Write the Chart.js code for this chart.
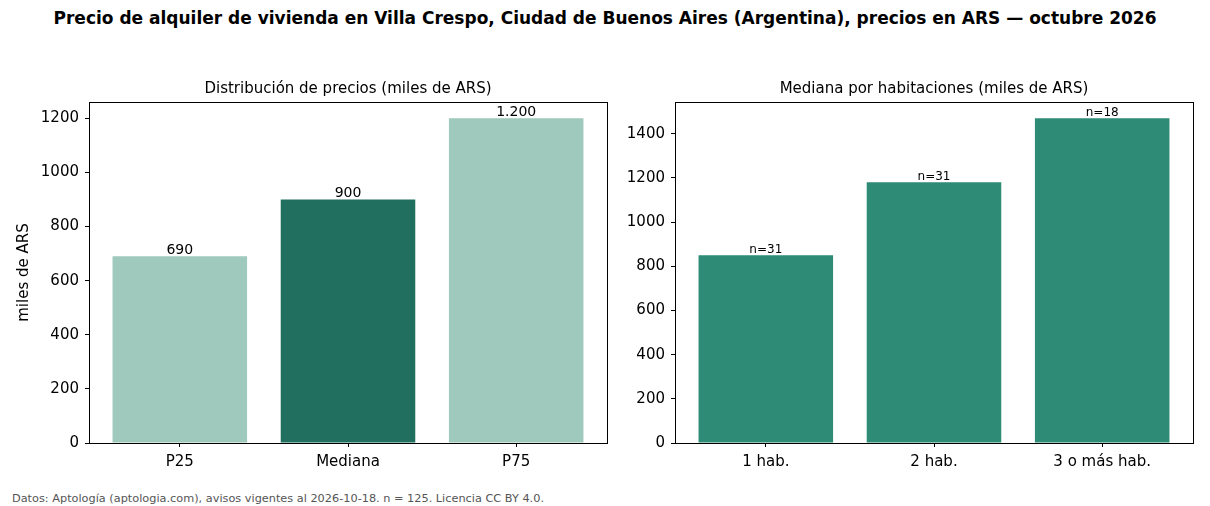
<!DOCTYPE html>
<html>
<head>
<meta charset="utf-8">
<script src="https://cdn.jsdelivr.net/npm/chart.js@4/dist/chart.umd.min.js"></script>
<style>
  body { margin: 0; background: #fff; font-family: "DejaVu Sans", sans-serif; }
  #page { position: relative; width: 1210px; height: 506px; overflow: hidden; }
  #titulo { position: absolute; left: 0; top: 8px; width: 1210px; text-align: center;
            font-weight: bold; font-size: 17px; color: #000; }
  #fuente { position: absolute; left: 12px; top: 492px; font-size: 11.3px; color: #555; }
  .box { position: absolute; top: 60px; height: 420px; }
</style>
</head>
<body>
<div id="page">
  <div id="titulo">Precio de alquiler de vivienda en Villa Crespo, Ciudad de Buenos Aires (Argentina), precios en ARS — octubre 2026</div>
  <div class="box" style="left:0;width:610px"><canvas id="distChart"></canvas></div>
  <div class="box" style="left:610px;width:600px"><canvas id="habChart"></canvas></div>
  <div id="fuente">Datos: Aptología (aptologia.com), avisos vigentes al 2026-10-18. n = 125. Licencia CC BY 4.0.</div>
</div>
<script>
const distCategorias = ['P25', 'Mediana', 'P75'];
const distValores = [690, 900, 1200];
const habCategorias = ['1 hab.', '2 hab.', '3 o más hab.'];
const habValores = [850, 1180, 1470];
const habAvisos = [31, 31, 18];

const verdeClaro = '#9ec9bc';
const verdeOscuro = '#216f5f';
const verdeMedio = '#2e8b76';
const fuente = '"DejaVu Sans", sans-serif';

// marco completo alrededor del area del grafico (como matplotlib)
const marco = {
    id: 'marco',
    afterDatasetsDraw(chart) {
        const a = chart.chartArea;
        const ctx = chart.ctx;
        ctx.save();
        ctx.strokeStyle = '#000';
        ctx.lineWidth = 1;
        ctx.strokeRect(Math.round(a.left) + 0.5, Math.round(a.top) + 0.5,
            Math.round(a.right - a.left), Math.round(a.bottom - a.top));
        ctx.restore();
    }
};

// titulo centrado sobre el area del grafico
function tituloArea(texto) {
    return {
        id: 'tituloArea',
        afterDraw(chart) {
            const a = chart.chartArea;
            const ctx = chart.ctx;
            ctx.save();
            ctx.font = '15px ' + fuente;
            ctx.fillStyle = '#000';
            ctx.textAlign = 'center';
            ctx.textBaseline = 'middle';
            ctx.fillText(texto, (a.left + a.right) / 2, a.top - 13);
            ctx.restore();
        }
    };
}

// etiquetas sobre las barras
function etiquetas(textos, tam) {
    return {
        id: 'etiquetas',
        afterDatasetsDraw(chart) {
            const ctx = chart.ctx;
            const meta = chart.getDatasetMeta(0);
            ctx.save();
            ctx.font = tam + 'px ' + fuente;
            ctx.fillStyle = '#000';
            ctx.textAlign = 'center';
            ctx.textBaseline = 'alphabetic';
            meta.data.forEach((bar, i) => {
                ctx.fillText(textos[i], bar.x, bar.y - 2);
            });
            ctx.restore();
        }
    };
}

function crearGrafico(id, categorias, valores, colores, yMax, titulo, anchoEje, padDer, tituloEje, textos, tamEtiq) {
    const ctx = document.getElementById(id).getContext('2d');
    return new Chart(ctx, {
        type: 'bar',
        data: {
            datasets: [{
                data: categorias.map((c, i) => ({ x: i, y: valores[i] })),
                backgroundColor: colores,
                borderWidth: 0,
                barPercentage: 0.8,
                categoryPercentage: 1
            }]
        },
        options: {
            responsive: true,
            maintainAspectRatio: false,
            animation: false,
            layout: { padding: { left: 0, right: padDer, top: 42, bottom: 0 } },
            plugins: {
                legend: { display: false },
                tooltip: { enabled: false },
                title: { display: false }
            },
            scales: {
                x: {
                    type: 'linear',
                    min: -0.54,
                    max: categorias.length - 1 + 0.54,
                    offset: false,
                    afterBuildTicks: s => { s.ticks = categorias.map((c, i) => ({ value: i })); },
                    afterFit: s => { s.height = 37; },
                    ticks: {
                        color: '#000',
                        font: { family: fuente, size: 15 },
                        padding: 6,
                        maxRotation: 0,
                        autoSkip: false,
                        callback: v => categorias[v]
                    },
                    grid: { display: true, offset: false, drawOnChartArea: false, drawTicks: true, tickLength: 4, color: '#000' },
                    border: { display: true, color: '#000' }
                },
                y: {
                    min: 0,
                    max: yMax,
                    afterBuildTicks: s => {
                        const t = [];
                        for (let v = 0; v <= yMax; v += 200) t.push({ value: v });
                        s.ticks = t;
                    },
                    afterFit: s => { s.width = anchoEje; },
                    ticks: {
                        stepSize: 200,
                        color: '#000',
                        font: { family: fuente, size: 15 },
                        padding: 6,
                        callback: v => String(v)
                    },
                    title: {
                        display: !!tituloEje,
                        text: tituloEje,
                        color: '#000',
                        font: { family: fuente, size: 15 },
                        padding: { top: 15, bottom: 0 }
                    },
                    grid: { display: true, drawOnChartArea: false, drawTicks: true, tickLength: 4, color: '#000' },
                    border: { display: true, color: '#000' }
                }
            }
        },
        plugins: [marco, tituloArea(titulo), etiquetas(textos, tamEtiq)]
    });
}

crearGrafico('distChart', distCategorias, distValores,
    [verdeClaro, verdeOscuro, verdeClaro], 1260,
    'Distribución de precios (miles de ARS)', 89, 3, 'miles de ARS',
    distValores.map(v => v.toLocaleString('es-AR')), 14);

crearGrafico('habChart', habCategorias, habValores,
    habCategorias.map(() => verdeMedio), 1543.5,
    'Mediana por habitaciones (miles de ARS)', 65, 17, '',
    habAvisos.map(n => 'n=' + n), 12);
</script>
</body>
</html>
